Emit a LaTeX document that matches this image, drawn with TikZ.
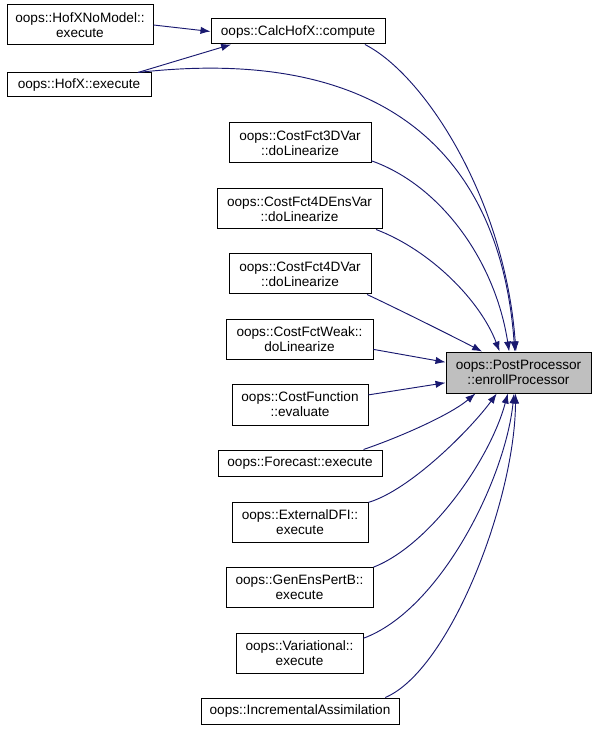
\documentclass[tikz,border=0pt]{standalone}
\usepackage{fontspec}
\setmainfont{Liberation Sans}
\usepackage{tikz}
\usetikzlibrary{arrows.meta}
\definecolor{bleunuit}{HTML}{191970}
\definecolor{grisfond}{HTML}{BFBFBF}

\begin{document}
\begin{tikzpicture}[x=0.75pt,y=-0.75pt]
            % Styles
            \tikzstyle{fleche}=[->,>={Latex[length=7.5pt,width=5.5pt]},draw=bleunuit,line width=0.7pt]
            \tikzstyle{noeud}=[draw=black,fill=white,line width=0.75pt,align=center,inner sep=1pt,
                               font=\fontsize{10.2}{11.3}\selectfont]
            \tikzstyle{cible}=[noeud,fill=grisfond]
            % Dimensions
            \def\Double{30pt}
            \def\Simple{19.5pt}
            \useasboundingbox (0,0) rectangle (596,730);
            % Noeuds
            \node[noeud,minimum width=109.5pt,minimum height=\Double] (HNM) at (80,25) {oops::HofXNoModel::\\execute};
            \node[noeud,minimum width=130.5pt,minimum height=18.75pt] (CH) at (298,31.5) {oops::CalcHofX::compute};
            \node[noeud,minimum width=108pt,minimum height=18pt] (HX) at (79,85) {oops::HofX::execute};
            \node[noeud,minimum width=106.5pt,minimum height=\Double] (CF3) at (300,143) {oops::CostFct3DVar\\::doLinearize};
            \node[noeud,minimum width=123.75pt,minimum height=\Double] (CF4E) at (299.5,209) {oops::CostFct4DEnsVar\\::doLinearize};
            \node[noeud,minimum width=106.5pt,minimum height=\Double] (CF4) at (300,274) {oops::CostFct4DVar\\::doLinearize};
            \node[noeud,minimum width=110.25pt,minimum height=\Double] (CFW) at (299.5,339) {oops::CostFctWeak::\\doLinearize};
            \node[noeud,minimum width=102pt,minimum height=30.75pt] (CFN) at (300,404.5) {oops::CostFunction\\::evaluate};
            \node[noeud,minimum width=123pt,minimum height=\Simple] (FC) at (300,463) {oops::Forecast::execute};
            \node[cible,minimum width=108.75pt,minimum height=30.75pt] (PP) at (518.5,372.5) {oops::PostProcessor\\::enrollProcessor};
            \node[noeud,minimum width=102pt,minimum height=\Double] (EDFI) at (300,522) {oops::ExternalDFI::\\execute};
            \node[noeud,minimum width=110.25pt,minimum height=\Double] (GEP) at (299.5,587) {oops::GenEnsPertB::\\execute};
            \node[noeud,minimum width=95.25pt,minimum height=\Double] (VAR) at (299.5,653) {oops::Variational::\\execute};
            \node[noeud,minimum width=148.5pt,minimum height=\Simple] (IA) at (300,711) {oops::IncrementalAssimilation};
            % Arcs
            \draw[fleche] (HNM.east) -- (CH.west);
            \draw[fleche] (HX.12) -- (CH.191);
            \draw[fleche] (CH.349) .. controls (425,75) and (505,200) .. (PP.97);
            \draw[fleche] (HX.12) .. controls (380,45) and (500,150) .. (PP.100);
            \draw[fleche] (CF3.346) .. controls (440,185) and (495,260) .. (PP.114);
            \draw[fleche] (CF4E.345) .. controls (430,250) and (480,300) .. (PP.132);
            \draw[fleche] (CF4.343) .. controls (400,310) and (450,335) .. (PP.150);
            \draw[fleche] (CFW.352) -- (PP.172);
            \draw[fleche] (CFN.8) -- (PP.188);
            \draw[fleche] (FC.12) .. controls (400,437) and (450,415) .. (PP.206);
            \draw[fleche] (EDFI.16) .. controls (410,490) and (470,430) .. (PP.224);
            \draw[fleche] (GEP.15) .. controls (430,545) and (490,460) .. (PP.243);
            \draw[fleche] (VAR.13) .. controls (440,610) and (505,480) .. (PP.258);
            \draw[fleche] (IA.9) .. controls (450,670) and (515,500) .. (PP.262);
\end{tikzpicture}
\end{document}
